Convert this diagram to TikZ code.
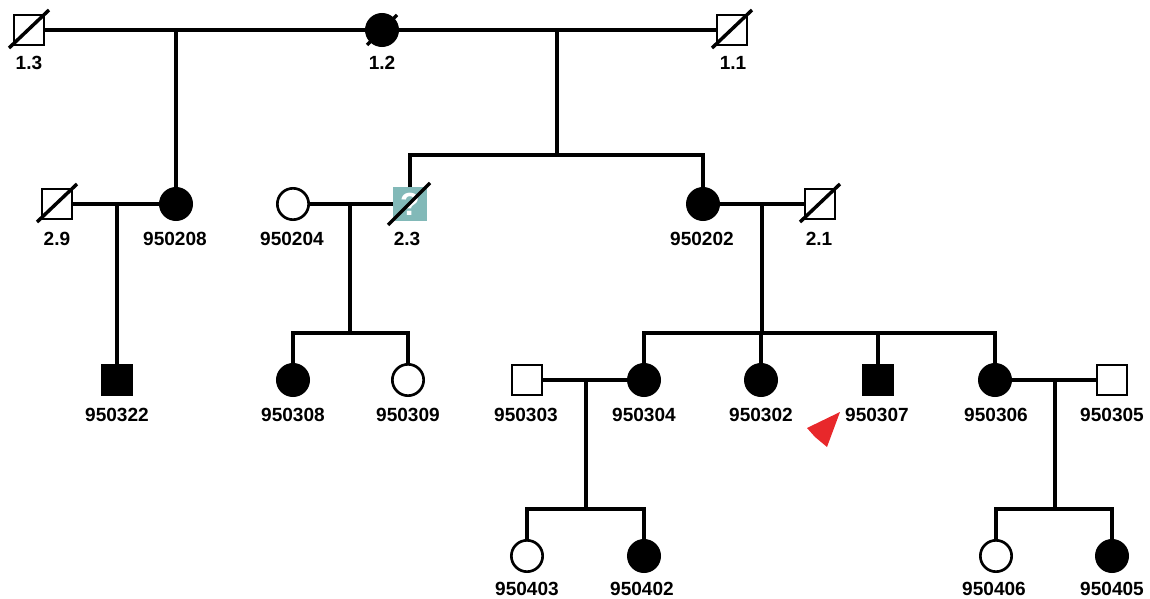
\documentclass[tikz,border=0pt]{standalone}
\usepackage{fontspec}
\setmainfont{Liberation Sans}
\definecolor{tealq}{HTML}{82B9B8}
\definecolor{arrowred}{HTML}{E8282B}
\begin{document}
\begin{tikzpicture}[x=0.75pt,y=-0.75pt,
  ln/.style={line width=2.3pt},
  sym/.style={draw, line width=2pt, inner sep=0pt},
  male/.style={sym, rectangle, minimum size=22.5pt},
  female/.style={sym, circle, minimum size=23.5pt},
  aff/.style={fill=black},
  una/.style={fill=white},
  lab/.style={font=\fontsize{14.3}{16}\selectfont\bfseries, inner sep=0pt},
  dead/.style={line width=2.6pt}
]
\useasboundingbox (0,0) rectangle (1150,599);
% connection points
\coordinate (m1) at (177,30);
\coordinate (m2) at (557,30);
\coordinate (s2) at (557,155);
\coordinate (m3) at (117,204);
\coordinate (m4) at (350,204);
\coordinate (s4) at (350,333);
\coordinate (m5) at (762,204);
\coordinate (s5) at (762,333);
\coordinate (m6) at (586,380);
\coordinate (s6) at (586,509);
\coordinate (m7) at (1055,380);
\coordinate (s7) at (1055,509);
% generation I
\node[male,una] (p13) at (29,30) {};
\node[female,aff] (p12) at (382,30) {};
\node[male,una] (p11) at (732,30) {};
% generation II
\node[male,una] (p29) at (57,204) {};
\node[female,aff] (p208) at (176,204) {};
\node[female,una] (p204) at (293,204) {};
\node[rectangle, fill=tealq, minimum size=25pt, inner sep=0pt, text=white, font=\fontsize{24}{24}\selectfont\bfseries] (p23) at (410,204) {?};
\node[female,aff] (p202) at (703,204) {};
\node[male,una] (p21) at (820,204) {};
% generation III
\node[male,aff] (p322) at (117,380) {};
\node[female,aff] (p308) at (293,380) {};
\node[female,una] (p309) at (408,380) {};
\node[male,una] (p303) at (527,380) {};
\node[female,aff] (p304) at (644,380) {};
\node[female,aff] (p302) at (761,380) {};
\node[male,aff] (p307) at (878,380) {};
\node[female,aff] (p306) at (995,380) {};
\node[male,una] (p305) at (1112,380) {};
% generation IV
\node[female,una] (p403) at (527,556) {};
\node[female,aff] (p402) at (644,556) {};
\node[female,una] (p406) at (996,556) {};
\node[female,aff] (p405) at (1112,556) {};
% connectors
\draw[ln] (p13) -- (p12);
\draw[ln] (p12) -- (p11);
\draw[ln] (p208) -- (p208 |- m1);
\draw[ln] (m2) -- (s2);
\draw[ln] (p23) -- (p23 |- s2) -- (p202 |- s2) -- (p202);
\draw[ln] (p29) -- (p208);
\draw[ln] (m3) -- (p322);
\draw[ln] (p204) -- (p23);
\draw[ln] (m4) -- (s4);
\draw[ln] (p308) -- (p308 |- s4) -- (p309 |- s4) -- (p309);
\draw[ln] (p202) -- (p21);
\draw[ln] (m5) -- (s5);
\draw[ln] (p304) -- (p304 |- s5) -- (p306 |- s5) -- (p306);
\draw[ln] (p302) -- (p302 |- s5);
\draw[ln] (p307) -- (p307 |- s5);
\draw[ln] (p303) -- (p304);
\draw[ln] (m6) -- (s6);
\draw[ln] (p403) -- (p403 |- s6) -- (p402 |- s6) -- (p402);
\draw[ln] (p306) -- (p305);
\draw[ln] (m7) -- (s7);
\draw[ln] (p406) -- (p406 |- s7) -- (p405 |- s7) -- (p405);
% deceased marks
\draw[dead] (p13.center) ++(-20,18) -- ++(40,-38);
\draw[dead] (p12.center) ++(-15,15) -- ++(30,-30);
\draw[dead] (p11.center) ++(-20,18) -- ++(40,-38);
\draw[dead] (p29.center) ++(-20,18) -- ++(40,-38);
\draw[dead] (p23.center) ++(-22,21) -- ++(42,-42);
\draw[dead] (p21.center) ++(-20,18) -- ++(40,-38);
% proband arrow
\fill[arrowred] (807,428) -- (840,412) -- (827,447) -- (815,437) -- cycle;
% labels
\node[lab] (l13) at (29,63) {1.3};
\node[lab] (l12) at (382,63) {1.2};
\node[lab] (l11) at (733,63) {1.1};
\node[lab] (l29) at (57,239) {2.9};
\node[lab] (l208) at (175,239) {950208};
\node[lab] (l204) at (292,239) {950204};
\node[lab] (l23) at (407,239) {2.3};
\node[lab] (l202) at (702,239) {950202};
\node[lab] (l21) at (819,239) {2.1};
\node[lab] (l322) at (117,415) {950322};
\node[lab] (l308) at (293,415) {950308};
\node[lab] (l309) at (408,415) {950309};
\node[lab] (l303) at (526,415) {950303};
\node[lab] (l304) at (644,415) {950304};
\node[lab] (l302) at (761,415) {950302};
\node[lab] (l307) at (877,415) {950307};
\node[lab] (l306) at (996,415) {950306};
\node[lab] (l305) at (1112,415) {950305};
\node[lab] (l403) at (527,589) {950403};
\node[lab] (l402) at (642,589) {950402};
\node[lab] (l406) at (994,589) {950406};
\node[lab] (l405) at (1112,589) {950405};
\end{tikzpicture}
\end{document}
